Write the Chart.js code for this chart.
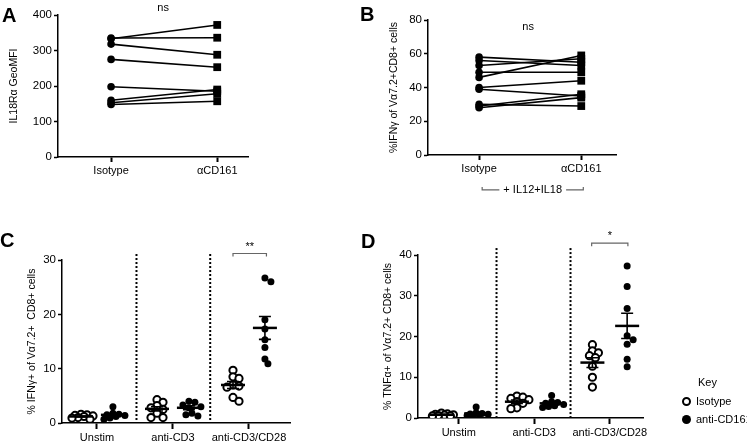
<!DOCTYPE html>
<html>
<head>
<meta charset="utf-8">
<script src="https://cdn.jsdelivr.net/npm/chart.js@4.4.1/dist/chart.umd.min.js"></script>
<style>
body{margin:0;background:#fff;font-family:"Liberation Sans",Arial,sans-serif}
#wrap{position:relative;width:747px;height:444px;overflow:hidden}
canvas{position:absolute;left:0;top:0}
.lt{position:absolute;font-weight:bold;font-size:20px;line-height:1;color:#000}
.key{position:absolute;font-size:11px;color:#000;line-height:1;white-space:nowrap}
.dot{position:absolute;width:9px;height:9px;border-radius:50%;box-sizing:border-box}
</style>
</head>
<body>
<div id="wrap">
<canvas id="cA" width="747" height="444"></canvas>
<canvas id="cB" width="747" height="444"></canvas>
<canvas id="cC" width="747" height="444"></canvas>
<canvas id="cD" width="747" height="444"></canvas>
<div class="lt" style="left:2px;top:5px">A</div>
<div class="lt" style="left:360px;top:4px">B</div>
<div class="lt" style="left:0px;top:230px">C</div>
<div class="lt" style="left:361px;top:231px">D</div>
<div class="key" style="left:698px;top:377px">Key</div>
<div class="dot" style="left:682px;top:397px;border:2.5px solid #000;background:#fff"></div>
<div class="key" style="left:696px;top:396px">Isotype</div>
<div class="dot" style="left:682px;top:415px;background:#000"></div>
<div class="key" style="left:696px;top:414px">anti-CD161</div>
</div>
<script>
// panel A / B : paired values
var pairLabels = ['Isotype', 'αCD161'];
var isoA = [333, 335, 318, 275, 198, 160, 153, 148];
var antiA = [372, 336, 288, 253, 185, 190, 178, 157];
var isoB = [58, 56, 53, 49, 46, 40, 39, 30, 29, 28];
var antiB = [55, 53, 57, 49, 59, 44, 35, 29, 36, 34];

// panel C / D : grouped scatter
var groups = ['Unstim', 'anti-CD3', 'anti-CD3/CD28'];
var cIso = [[1.6, 1.5, 1.4, 1.3, 1.2, 1.0, 0.9, 0.7],
            [4.3, 3.8, 3.2, 2.8, 2.5, 1.8, 1.0, 1.0],
            [9.7, 8.5, 8.2, 7.0, 6.8, 6.6, 4.7, 4.0]];
var cAnti = [[3.0, 1.8, 1.6, 1.5, 1.4, 1.2, 0.9, 0.7],
             [4.0, 3.8, 3.3, 3.0, 2.8, 1.8, 1.5, 1.3],
             [26.7, 26.0, 19.0, 17.3, 15.3, 13.9, 11.8, 10.9]];
var cIsoMean = [1.2, 2.6, 7.0], cIsoSem = [0.1, 0.4, 0.65];
var cAntiMean = [1.5, 2.8, 17.5], cAntiSem = [0.25, 0.35, 2.1];

var dIso = [[1.2, 1.0, 0.9, 0.8, 0.7, 0.6, 0.5, 0.5],
            [5.4, 5.1, 4.8, 4.5, 4.0, 3.6, 2.5, 2.3],
            [18.0, 16.5, 16.0, 15.3, 14.8, 12.7, 10.0, 7.6]];
var dAnti = [[2.7, 1.3, 1.1, 1.0, 0.9, 0.8, 0.7, 0.6],
             [5.5, 4.0, 3.8, 3.6, 3.3, 3.0, 2.8, 2.6],
             [37.3, 32.3, 26.9, 20.2, 19.2, 18.1, 14.4, 12.6]];
var dIsoMean = [0.8, 4.0, 13.6], dIsoSem = [0.1, 0.4, 1.2];
var dAntiMean = [1.1, 3.6, 22.6], dAntiSem = [0.25, 0.3, 3.1];

Chart.defaults.font.family = '"Liberation Sans", Arial, sans-serif';
Chart.defaults.color = '#000';
Chart.defaults.animation = false;

var W = 747, H = 444;

// simple beeswarm, works in px then back to x units
var swarm = function(vals, pxX, pxY)
{
	var placed = [], out = [];
	var diam = 5.5, step = 3, maxOff = 11;
	vals.forEach(function(v){
		var yp = v * pxY, best = 0, bestD = -1;
		for (var k = 0; k <= maxOff / step * 2; k++) {
			var off = (k % 2 ? 1 : -1) * Math.ceil(k / 2) * step;
			var dmin = 1e9;
			placed.forEach(function(p){
				dmin = Math.min(dmin, Math.hypot(p.x - off, p.y - yp));
			});
			if (dmin >= diam) { best = off; bestD = dmin; break; }
			if (dmin > bestD) { bestD = dmin; best = off; }
		}
		placed.push({x: best, y: yp});
		out.push(best / pxX);
	});
	return out;
}

var marks = {
	id: 'marks',
	beforeDatasetsDraw: function(chart, args, o)
	{
		var ctx = chart.ctx, x = chart.scales.x, y = chart.scales.y;
		(o.dividers || []).forEach(function(d){
			ctx.save();
			ctx.strokeStyle = '#000';
			ctx.lineWidth = 2;
			ctx.setLineDash([2, 2]);
			ctx.beginPath();
			ctx.moveTo(x.getPixelForValue(d), y.getPixelForValue(o.divTop));
			ctx.lineTo(x.getPixelForValue(d), chart.chartArea.bottom);
			ctx.stroke();
			ctx.restore();
		});
	},
	afterDatasetsDraw: function(chart, args, o)
	{
		var ctx = chart.ctx, x = chart.scales.x, y = chart.scales.y;
		ctx.save();
		ctx.strokeStyle = '#000';
		(o.means || []).forEach(function(m){
			var cx = x.getPixelForValue(m.x), my = y.getPixelForValue(m.mean);
			var t = y.getPixelForValue(m.mean + m.sem), b = y.getPixelForValue(m.mean - m.sem);
			ctx.lineWidth = 2.5;
			ctx.beginPath(); ctx.moveTo(cx - 12, my); ctx.lineTo(cx + 12, my); ctx.stroke();
			ctx.lineWidth = 1.6;
			ctx.beginPath();
			ctx.moveTo(cx, t); ctx.lineTo(cx, b);
			ctx.moveTo(cx - 6, t); ctx.lineTo(cx + 6, t);
			ctx.moveTo(cx - 6, b); ctx.lineTo(cx + 6, b);
			ctx.stroke();
		});
		ctx.font = '11px "Liberation Sans", Arial, sans-serif';
		ctx.textAlign = 'center';
		ctx.textBaseline = 'middle';
		(o.brackets || []).forEach(function(br){
			var x1 = x.getPixelForValue(br.x1), x2 = x.getPixelForValue(br.x2), by = y.getPixelForValue(br.y);
			var dir = br.down ? 1 : -1;
			ctx.strokeStyle = '#666';
			ctx.lineWidth = 1.2;
			ctx.beginPath();
			ctx.moveTo(x1, by + 3 * dir); ctx.lineTo(x1, by); ctx.lineTo(x2, by); ctx.lineTo(x2, by + 3 * dir);
			ctx.stroke();
			if (br.inline) {
				var tw = ctx.measureText(br.label).width + 8, mx = (x1 + x2) / 2;
				ctx.fillStyle = '#fff';
				ctx.fillRect(mx - tw / 2, by - 7, tw, 14);
				ctx.fillStyle = '#000';
				ctx.fillText(br.label, mx, by);
			} else {
				ctx.fillStyle = '#000';
				ctx.fillText(br.label, (x1 + x2) / 2, by - 7);
			}
		});
		(o.texts || []).forEach(function(t){
			ctx.fillStyle = '#000';
			ctx.fillText(t.text, x.getPixelForValue(t.x), y.getPixelForValue(t.y));
		});
		ctx.restore();
	}
}

var yScale = function(min, max, step, title, yw)
{
	return {
		type: 'linear', min: min, max: max,
		ticks: {stepSize: step, color: '#000', font: {size: 11.5}, padding: 2},
		grid: {drawOnChartArea: false, tickLength: 4, tickColor: '#000', tickWidth: 1.5},
		border: {color: '#000', width: 1.5},
		title: {display: true, text: title, color: '#000', font: {size: 10.5}, padding: {top: 4, bottom: 4}},
		afterFit: function(s){ s.width = yw; }
	};
}

var xScale = function(min, max, labels, tl)
{
	return {
		type: 'linear', min: min, max: max,
		afterBuildTicks: function(s){ s.ticks = labels.map(function(l, i){ return {value: i}; }); },
		ticks: {callback: function(v){ return labels[v]; }, color: '#000', font: {size: 11}, padding: 2, autoSkip: false, maxRotation: 0},
		grid: {drawOnChartArea: false, tickLength: tl, tickColor: '#000', tickWidth: 2},
		border: {color: '#000', width: 1.5},
		afterFit: function(s){ s.height = 30; }
	};
}

var pad = function(L, T, R, B, yw)
{
	return {left: L - yw, top: T, right: W - R, bottom: H - B - 30};
}

var pairChart = function(id, iso, anti, area, yopt, marksOpt)
{
	var sets = iso.map(function(v, i){
		return {
			data: [{x: 0, y: v}, {x: 1, y: anti[i]}],
			showLine: true, borderColor: '#000', borderWidth: 1.6,
			pointStyle: ['circle', 'rect'], pointRadius: [3.8, 5.5],
			pointBackgroundColor: '#000', pointBorderColor: '#000', pointBorderWidth: 0
		};
	});
	new Chart(document.getElementById(id), {
		type: 'scatter',
		data: {datasets: sets},
		options: {
			responsive: false,
			layout: {padding: pad(area[0], area[1], area[2], area[3], yopt[4])},
			scales: {
				x: xScale(area[4], area[5], pairLabels, 5),
				y: yScale(yopt[0], yopt[1], yopt[2], yopt[3], yopt[4])
			},
			plugins: {legend: {display: false}, tooltip: {enabled: false}, marks: marksOpt}
		},
		plugins: [marks]
	});
}

var groupChart = function(id, iso, anti, isoMean, isoSem, antiMean, antiSem, area, yopt, sh, pxX, pxY, marksOpt)
{
	var isoPts = [], antiPts = [], means = [];
	groups.forEach(function(g, gi){
		var ji = swarm(iso[gi], pxX, pxY), ja = swarm(anti[gi], pxX, pxY);
		iso[gi].forEach(function(v, i){ isoPts.push({x: gi - sh + ji[i], y: v}); });
		anti[gi].forEach(function(v, i){ antiPts.push({x: gi + sh + ja[i], y: v}); });
		means.push({x: gi - sh, mean: isoMean[gi], sem: isoSem[gi]});
		means.push({x: gi + sh, mean: antiMean[gi], sem: antiSem[gi]});
	});
	marksOpt.means = means;
	new Chart(document.getElementById(id), {
		type: 'scatter',
		data: {datasets: [
			{data: isoPts, pointRadius: 3.6, pointBorderWidth: 2, pointBackgroundColor: '#fff', pointBorderColor: '#000'},
			{data: antiPts, pointRadius: 3.5, pointBorderWidth: 0, pointBackgroundColor: '#000', pointBorderColor: '#000'}
		]},
		options: {
			responsive: false,
			layout: {padding: pad(area[0], area[1], area[2], area[3], yopt[4])},
			scales: {
				x: xScale(area[4], area[5], groups, 6),
				y: yScale(yopt[0], yopt[1], yopt[2], yopt[3], yopt[4])
			},
			plugins: {legend: {display: false}, tooltip: {enabled: false}, marks: marksOpt}
		},
		plugins: [marks]
	});
}

pairChart('cA', isoA, antiA, [58, 15, 248, 157, -0.5, 1.29],
	[0, 400, 100, 'IL18Rα GeoMFI', 54],
	{texts: [{x: 0.49, y: 420, text: 'ns'}]});

pairChart('cB', isoB, antiB, [428, 20, 616, 155, -0.5, 1.34],
	[0, 80, 20, '%IFNγ of Vα7.2+CD8+ cells', 44],
	{texts: [{x: 0.48, y: 76, text: 'ns'}],
	 brackets: [{x1: 0.03, x2: 1.02, y: -20.7, label: '+ IL12+IL18', inline: true}]});

groupChart('cC', cIso, cAnti, cIsoMean, cIsoSem, cAntiMean, cAntiSem,
	[62, 260, 290, 423, -0.46, 2.54],
	[0, 30, 10, '% IFNγ+ of Vα7.2+  CD8+ cells', 40], 0.21, 76, 163 / 30,
	{dividers: [0.52, 1.49], divTop: 31.1,
	 brackets: [{x1: 1.79, x2: 2.23, y: 31.2, label: '**', down: true}]});

groupChart('cD', dIso, dAnti, dIsoMean, dIsoSem, dAntiMean, dAntiSem,
	[418, 255, 643, 418, -0.54, 2.44],
	[0, 40, 10, '% TNFα+ of Vα7.2+ CD8+ cells', 40], 0.23, 75.5, 163 / 40,
	{dividers: [0.5, 1.48], divTop: 41.7,
	 brackets: [{x1: 1.76, x2: 2.24, y: 42.9, label: '*', down: true}]});
</script>
</body>
</html>
